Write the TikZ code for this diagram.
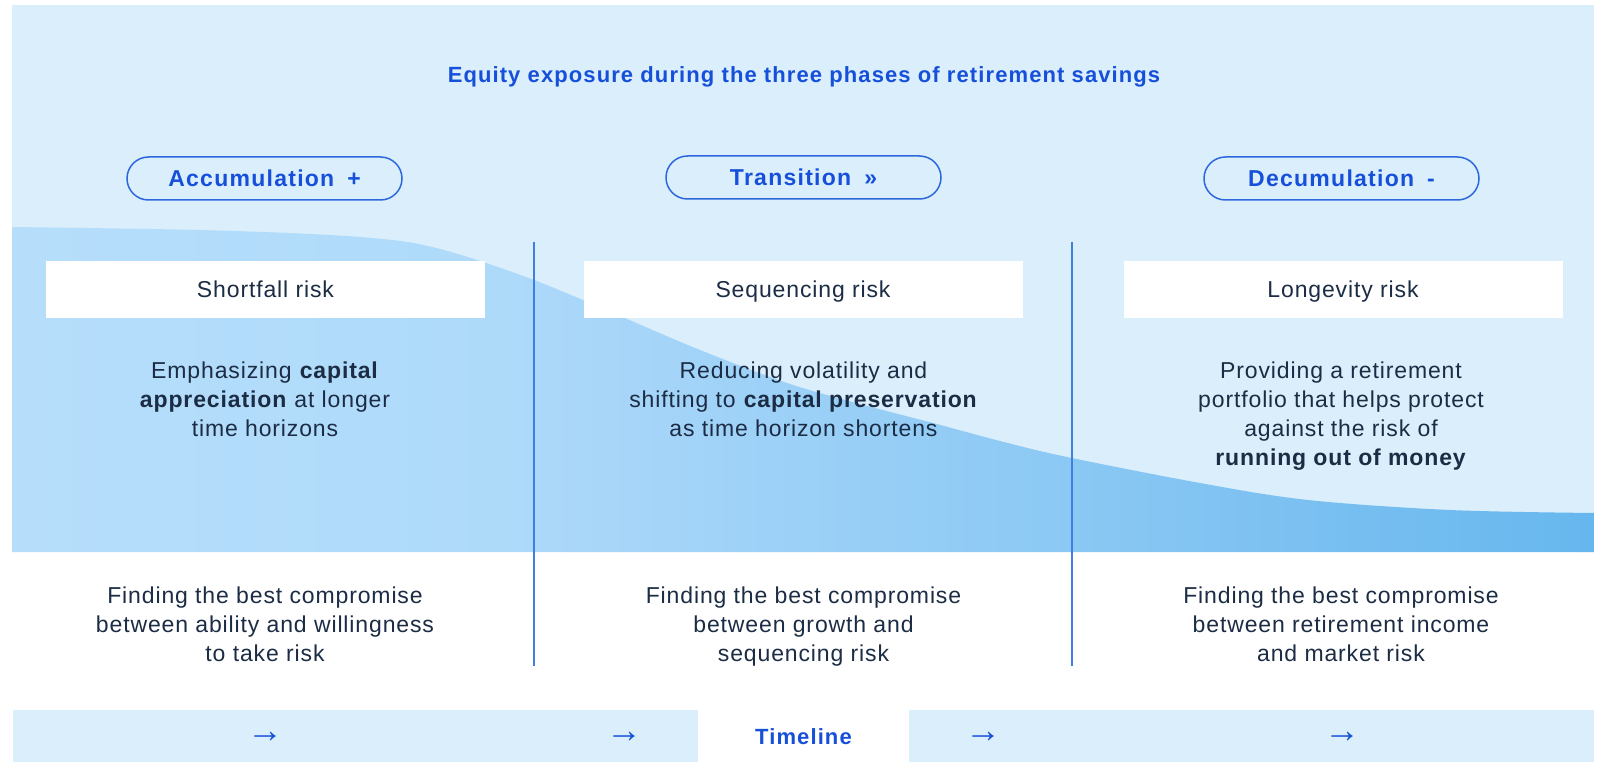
\documentclass[tikz,border=0pt]{standalone}
\usepackage{fontspec}
\setmainfont{Liberation Sans}
\newfontfamily\bodyf[LetterSpace=3.8]{Liberation Sans}
\newfontfamily\titlef[LetterSpace=5]{Liberation Sans}
\newfontfamily\pillf[LetterSpace=5.5]{Liberation Sans}
\newfontfamily\arrowf{Liberation Sans}
\definecolor{bgblue}{HTML}{DAEEFC}
\definecolor{navy}{HTML}{1B2C44}
\definecolor{tblue}{HTML}{1650DA}
\definecolor{pillblue}{HTML}{2D67DD}
\definecolor{vblue}{HTML}{3F7EE3}
\definecolor{cA}{HTML}{B6DEFB}
\definecolor{cB}{HTML}{AEDAFA}
\definecolor{cC}{HTML}{A8D6F9}
\definecolor{cD}{HTML}{8CC9F4}
\definecolor{cE}{HTML}{7BC0F1}
\definecolor{cF}{HTML}{66B7EE}
\pgfdeclarehorizontalshading{curveshade}{100bp}{color(0bp)=(cA); color(25bp)=(cA); color(40.4bp)=(cB); color(43.6bp)=(cC); color(57.8bp)=(cD); color(65.7bp)=(cE); color(75bp)=(cF); color(100bp)=(cF)}
\newcommand{\mlines}[1]{\begin{tabular}[t]{@{}c@{}}#1\end{tabular}}
\begin{document}
\begin{tikzpicture}[x=1pt,y=-1pt,
  riskbox/.style={fill=white, minimum width=439, minimum height=57, inner sep=0, text height=16.5, text depth=0, font=\bodyf\fontsize{23}{29.3}\selectfont, text=navy},
  desc/.style={anchor=base, inner sep=0, font=\bodyf\fontsize{23}{29.3}\selectfont, text=navy},
  pill/.style={draw=pillblue, line width=1.5, fill=bgblue, rounded corners=21.5, minimum width=275, minimum height=43, inner sep=0, text height=16.5, text depth=0, font=\pillf\bfseries\fontsize{23}{26}\selectfont, text=tblue},
  vline/.style={draw=vblue, line width=2},
  arr/.style={inner sep=0, font=\arrowf\fontsize{36}{40}\selectfont, text=tblue},
  band/.style={fill=bgblue}]
\useasboundingbox (0,0) rectangle (1599,762);
\fill[white] (0,0) rectangle (1599,762);
\fill[band] (12,5) rectangle (1594,552);
\shade[shading=curveshade] (12,552) -- plot[smooth, tension=0.55] coordinates {(12,227) (200,230) (330,235) (400,241) (440,249) (483,262) (534,280) (583,300) (627,319) (700,350) (787,383) (860,404) (933,423) (1000,441) (1067,457) (1200,483) (1308,500) (1450,510) (1594,513)} -- (1594,552) -- cycle;

% title
\node[anchor=base, inner sep=0, font=\titlef\bfseries\fontsize{22}{26}\selectfont, text=tblue] (title) at (804,83) {Equity exposure during the three phases of retirement savings};

% pills
\node[pill] (p1) at (264.5,178.5) {Accumulation\hspace{13pt}+};
\node[pill] (p2) at (803.5,177.5) {Transition\hspace{13pt}»};
\node[pill] (p3) at (1341.5,178.5) {Decumulation\hspace{13pt}-};

% risk boxes
\node[riskbox] (r1) at (265.5,289.5) {Shortfall risk};
\node[riskbox] (r2) at (803,289.5) {Sequencing risk};
\node[riskbox] (r3) at (1343,289.5) {Longevity risk};

% descriptions
\node[desc] (d1) at (265,378) {\mlines{Emphasizing \textbf{capital}\\\textbf{appreciation} at longer\\time horizons}};
\node[desc] (d2) at (803.5,378) {\mlines{Reducing volatility and\\shifting to \textbf{capital preservation}\\as time horizon shortens}};
\node[desc] (d3) at (1341,378) {\mlines{Providing a retirement\\portfolio that helps protect\\against the risk of\\\textbf{running out of money}}};

% bottom texts
\node[desc] (b1) at (265,603) {\mlines{Finding the best compromise\\between ability and willingness\\to take risk}};
\node[desc] (b2) at (803.5,603) {\mlines{Finding the best compromise\\between growth and\\sequencing risk}};
\node[desc] (b3) at (1341,603) {\mlines{Finding the best compromise\\between retirement income\\and market risk}};

% vertical separators
\coordinate (v1t) at (534,242);
\coordinate (v1b) at (534,666);
\coordinate (v2t) at (1072,242);
\coordinate (v2b) at (1072,666);
\draw[vline] (v1t) -- (v1b);
\draw[vline] (v2t) -- (v2b);

% timeline
\fill[band] (13,710) rectangle (698,762);
\fill[band] (909,710) rectangle (1594,762);
\node[arr] (a1) at (265,737) {→};
\node[arr] (a2) at (624,737) {→};
\node[arr] (a3) at (983,737) {→};
\node[arr] (a4) at (1342,737) {→};
\node[inner sep=0, font=\titlef\bfseries\fontsize{22}{26}\selectfont, text=tblue] (tl) at (803.5,737) {Timeline};
\end{tikzpicture}
\end{document}
